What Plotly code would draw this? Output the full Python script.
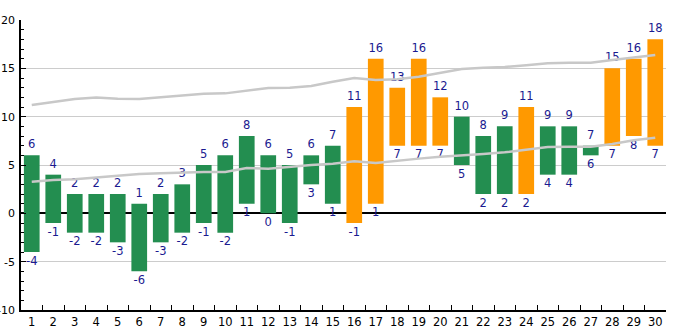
import plotly.graph_objects as go

days = [str(d) for d in range(1, 31)]
highs = [6, 4, 2, 2, 2, 1, 2, 3, 5, 6, 8, 6, 5, 6, 7, 11, 16, 13, 16, 12, 10, 8, 9, 11, 9, 9, 7, 15, 16, 18]
lows = [-4, -1, -2, -2, -3, -6, -3, -2, -1, -2, 1, 0, -1, 3, 1, -1, 1, 7, 7, 7, 5, 2, 2, 2, 4, 4, 6, 7, 8, 7]
warm = [False] * 15 + [True] * 5 + [False, False, False, True, False, False, False, True, True, True]
upper_line = [11.2, 11.55, 11.83, 11.97, 11.85, 11.83, 12.03, 12.24, 12.38, 12.41, 12.69, 12.97, 13.0, 13.17, 13.62,
              14.0, 13.8, 13.86, 14.14, 14.55, 14.93, 15.07, 15.14, 15.31, 15.52, 15.59, 15.59, 15.86, 16.14, 16.38]
lower_line = [3.28, 3.45, 3.52, 3.72, 3.9, 4.07, 4.14, 4.24, 4.28, 4.28, 4.69, 4.62, 4.83, 5.0, 5.14,
              5.38, 5.2, 5.45, 5.66, 5.86, 5.97, 6.14, 6.31, 6.59, 6.86, 6.9, 6.9, 7.17, 7.55, 7.83]

GREEN = "#238E50"
ORANGE = "#FF9900"
LABEL = "#1a1a90"
LINE = "#c8c8c8"
FONT = "DejaVu Sans"
FS = 11.5

fig = go.Figure()
fig.add_trace(go.Bar(
    x=days, y=[h - l for h, l in zip(highs, lows)], base=lows,
    marker=dict(color=[ORANGE if w else GREEN for w in warm], line=dict(width=0)),
    hoverinfo="skip", showlegend=False,
))
fig.add_trace(go.Scatter(
    x=days, y=highs, mode="markers+text", text=[str(v) for v in highs],
    marker=dict(size=5, color="rgba(0,0,0,0)"),
    textposition="top center", textfont=dict(color=LABEL, size=FS, family=FONT),
    showlegend=False, hoverinfo="skip",
))
fig.add_trace(go.Scatter(
    x=days, y=lows, mode="markers+text", text=[str(v) for v in lows],
    marker=dict(size=5, color="rgba(0,0,0,0)"),
    textposition="bottom center", textfont=dict(color=LABEL, size=FS, family=FONT),
    showlegend=False, hoverinfo="skip",
))
for series in (upper_line, lower_line):
    fig.add_trace(go.Scatter(
        x=days, y=series, mode="lines", line=dict(color=LINE, width=2.5),
        showlegend=False, hoverinfo="skip",
    ))

fig.update_layout(
    width=685, height=330,
    margin=dict(l=21, r=19, t=20, b=20, autoexpand=False),
    paper_bgcolor="white", plot_bgcolor="white",
    bargap=0.27,
    font=dict(family=FONT, size=FS, color="black"),
    xaxis=dict(
        type="category", range=[-0.5, 29.5], tickson="boundaries", ticks="inside", ticklen=5,
        tickcolor="black", showline=True, linecolor="black", linewidth=1.5,
        showgrid=False, zeroline=False, fixedrange=True, tickangle=0, automargin=False,
        tickfont=dict(size=FS, family=FONT, color="black"),
    ),
    yaxis=dict(
        range=[-10, 20], tickvals=[-10, -5, 0, 5, 10, 15, 20],
        ticktext=["-10", "-5", "0", "5", "10", "15", "20"],
        ticks="inside", ticklen=5, tickcolor="black", automargin=False,
        ticklabelstandoff=2,
        minor=dict(dtick=1, ticks="inside", ticklen=3, tickcolor="black", showgrid=False),
        showline=True, linecolor="black", linewidth=1.5,
        showgrid=True, gridcolor="#cccccc", gridwidth=1,
        zeroline=True, zerolinecolor="black", zerolinewidth=1.5,
        fixedrange=True,
        tickfont=dict(size=11, family=FONT, color="black"),
    ),
)

fig.write_html("out.html")
